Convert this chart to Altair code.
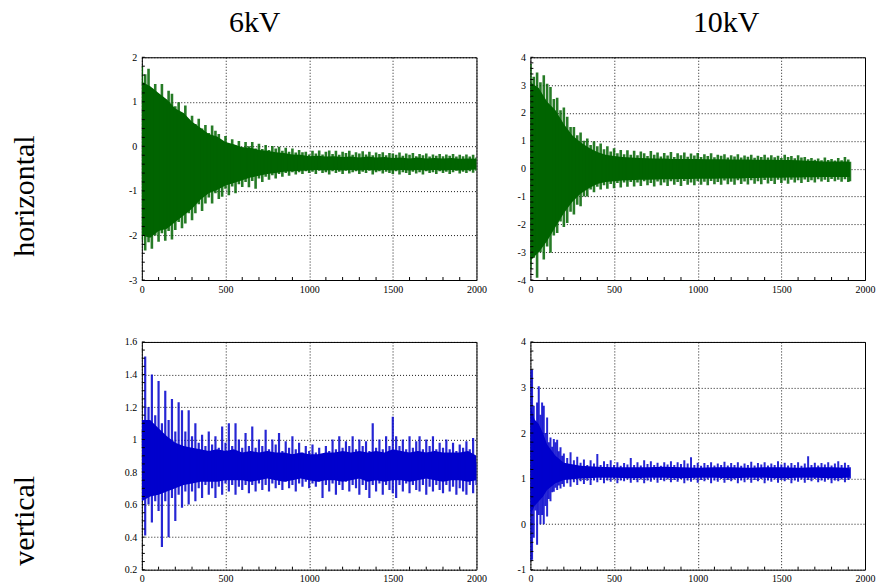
import altair as alt
import pandas as pd

col_titles = ["6kV", "10kV"]
row_titles = ["horizontal", "vertical"]
x_ticks = [0, 500, 1000, 1500, 2000]
x_minor = [100, 200, 300, 400, 600, 700, 800, 900, 1100, 1200, 1300, 1400,
           1600, 1700, 1800, 1900]

# ================= 6kV horizontal =================
# spike extremes read every 20 samples
tl_x = list(range(0, 2001, 20))
tl_hi = [1.80, 1.62, 1.74, 1.30, 1.40, 1.15, 1.40, 1.05, 1.25, 1.18,      # 0-180
         0.90, 0.99, 0.75, 0.92, 0.60, 0.69, 0.50, 0.62, 0.40, 0.48,      # 200-380
         0.30, 0.47, 0.35, 0.28, 0.12, 0.23, 0.05, 0.16, 0.02, 0.12,      # 400-580
         -0.02, 0.10, 0.00, 0.10, -0.05, 0.06, -0.06, 0.03, -0.08, 0.01,  # 600-780
         -0.05, -0.01, -0.10, -0.03, -0.12, -0.05, -0.14, -0.08, -0.13, -0.12,  # 800-980
         -0.18, -0.10, -0.16, -0.09, -0.18, -0.12, -0.09, -0.17, -0.10, -0.19,  # 1000-1180
         -0.12, -0.15, -0.10, -0.19, -0.13, -0.16, -0.11, -0.18, -0.12, -0.20,  # 1200-1380
         -0.14, -0.17, -0.13, -0.20, -0.15, -0.16, -0.19, -0.14, -0.21, -0.16,  # 1400-1580
         -0.19, -0.15, -0.22, -0.17, -0.20, -0.16, -0.23, -0.18, -0.21, -0.17,  # 1600-1780
         -0.22, -0.18, -0.21, -0.17, -0.23, -0.19, -0.22, -0.18, -0.23, -0.19,  # 1800-1980
         -0.25]
tl_lo = [-2.10, -2.34, -2.15, -2.30, -2.00, -2.14, -1.95, -2.12, -1.90, -2.09,
         -1.88, -1.70, -1.84, -1.73, -1.50, -1.66, -1.50, -1.30, -1.45, -1.28,
         -1.15, -1.28, -1.05, -1.18, -1.13, -0.95, -1.10, -0.90, -1.05, -0.85,
         -0.91, -0.80, -0.92, -0.78, -0.95, -0.72, -0.80, -0.68, -0.75, -0.65,
         -0.72, -0.62, -0.68, -0.60, -0.66, -0.58, -0.63, -0.58, -0.62, -0.56,
         -0.60, -0.57, -0.62, -0.55, -0.60, -0.58, -0.63, -0.56, -0.60, -0.57,
         -0.62, -0.55, -0.61, -0.58, -0.56, -0.62, -0.57, -0.60, -0.55, -0.63,
         -0.58, -0.56, -0.61, -0.57, -0.60, -0.62, -0.56, -0.63, -0.58, -0.60,
         -0.64, -0.57, -0.61, -0.58, -0.63, -0.56, -0.60, -0.58, -0.62, -0.56,
         -0.60, -0.57, -0.62, -0.58, -0.55, -0.61, -0.57, -0.60, -0.56, -0.59,
         -0.55]
# dense core band read every 50 samples
tl_cx = list(range(0, 2001, 50))
tl_chi = [1.45, 1.35, 1.20, 1.05, 0.85, 0.75, 0.55, 0.42, 0.28, 0.22,
          0.10, 0.05, -0.02, -0.03, -0.08, -0.10, -0.13, -0.15, -0.18, -0.19,
          -0.22, -0.21, -0.23, -0.22, -0.24, -0.23, -0.25, -0.23, -0.25, -0.24,
          -0.26, -0.25, -0.27, -0.25, -0.27, -0.26, -0.27, -0.26, -0.28, -0.27,
          -0.28]
tl_clo = [-2.00, -2.05, -1.90, -1.85, -1.70, -1.55, -1.40, -1.20, -1.05, -0.98,
          -0.88, -0.82, -0.76, -0.70, -0.66, -0.62, -0.60, -0.57, -0.56, -0.55,
          -0.54, -0.53, -0.54, -0.53, -0.54, -0.53, -0.54, -0.53, -0.54, -0.53,
          -0.54, -0.53, -0.54, -0.53, -0.54, -0.53, -0.54, -0.53, -0.54, -0.53,
          -0.52]

# ================= 10kV horizontal =================
tr_x = list(range(0, 1901, 20)) + [1910]
tr_hi = [3.76, 3.30, 3.45, 3.10, 3.35, 3.05, 2.93, 2.50, 2.55, 2.10,      # 0-180
         2.20, 1.86, 1.50, 1.50, 1.20, 1.30, 1.00, 1.08, 0.85, 0.98,      # 200-380
         0.80, 0.90, 0.70, 0.80, 0.62, 0.73, 0.55, 0.67, 0.52, 0.66,      # 400-580
         0.50, 0.64, 0.48, 0.62, 0.55, 0.45, 0.63, 0.50, 0.58, 0.44,      # 600-780
         0.56, 0.47, 0.60, 0.42, 0.55, 0.48, 0.58, 0.43, 0.54, 0.47,      # 800-980
         0.56, 0.42, 0.52, 0.45, 0.55, 0.41, 0.50, 0.46, 0.52, 0.40,      # 1000-1180
         0.48, 0.44, 0.52, 0.40, 0.47, 0.43, 0.50, 0.39, 0.46, 0.42,      # 1200-1380
         0.50, 0.40, 0.48, 0.41, 0.46, 0.38, 0.50, 0.42, 0.45, 0.37,      # 1400-1580
         0.48, 0.40, 0.42, 0.34, 0.38, 0.32, 0.36, 0.30, 0.40, 0.31,      # 1600-1780
         0.35, 0.29, 0.38, 0.30, 0.42, 0.33,                              # 1800-1900
         0.25]                                                            # 1910
tr_lo = [-3.62, -3.20, -3.92, -3.00, -3.26, -2.80, -3.02, -2.40, -2.31, -1.90,
         -2.10, -1.95, -1.55, -1.65, -1.30, -1.35, -1.00, -1.00, -0.75, -0.85,
         -0.65, -0.75, -0.60, -0.72, -0.55, -0.70, -0.52, -0.68, -0.50, -0.65,
         -0.48, -0.64, -0.50, -0.62, -0.45, -0.60, -0.52, -0.64, -0.46, -0.60,
         -0.50, -0.62, -0.45, -0.58, -0.48, -0.62, -0.44, -0.58, -0.50, -0.60,
         -0.45, -0.58, -0.47, -0.60, -0.44, -0.56, -0.48, -0.58, -0.43, -0.56,
         -0.47, -0.58, -0.42, -0.55, -0.46, -0.57, -0.42, -0.54, -0.45, -0.56,
         -0.41, -0.53, -0.44, -0.55, -0.40, -0.52, -0.43, -0.54, -0.40, -0.50,
         -0.42, -0.52, -0.39, -0.48, -0.42, -0.50, -0.38, -0.46, -0.40, -0.48,
         -0.37, -0.45, -0.40, -0.47, -0.38, -0.48,
         -0.45]
tr_cx = list(range(0, 1901, 50)) + [1910]
tr_chi = [3.10, 2.90, 2.40, 2.10, 1.60, 1.20, 0.95, 0.75, 0.60, 0.50,
          0.45, 0.42, 0.40, 0.38, 0.37, 0.36, 0.36, 0.35, 0.35, 0.35,
          0.35, 0.34, 0.34, 0.34, 0.33, 0.33, 0.33, 0.32, 0.32, 0.32,
          0.31, 0.31, 0.30, 0.28, 0.27, 0.26, 0.26, 0.26, 0.26,
          0.22]
tr_clo = [-3.30, -3.00, -2.60, -2.10, -1.60, -1.20, -0.90, -0.70, -0.55, -0.48,
          -0.45, -0.43, -0.42, -0.40, -0.40, -0.39, -0.38, -0.38, -0.37, -0.37,
          -0.36, -0.36, -0.36, -0.35, -0.35, -0.35, -0.34, -0.34, -0.33, -0.33,
          -0.33, -0.32, -0.32, -0.31, -0.31, -0.30, -0.30, -0.30, -0.30,
          -0.30]

# ================= 6kV vertical =================
bl_x = list(range(0, 2001, 20))
bl_hi = [1.06, 1.51, 1.20, 1.40, 1.15, 1.36, 1.10, 1.30, 1.12, 1.25,
         1.05, 1.23, 1.18, 1.05, 1.18, 1.02, 1.10, 0.98, 1.03, 0.96,
         1.05, 0.97, 1.02, 0.95, 1.08, 0.98, 1.10, 0.96, 1.10, 1.00,
         0.95, 1.04, 0.96, 1.08, 0.95, 1.00, 0.96, 1.06, 0.94, 1.00,
         0.97, 1.04, 0.93, 0.99, 0.95, 1.02, 0.94, 0.98, 0.92, 0.96,
         0.93, 0.97, 0.92, 0.95, 0.91, 0.96, 0.93, 1.00, 0.94, 1.02,
         0.95, 0.99, 0.96, 1.02, 0.94, 1.00, 0.96, 0.99, 0.93, 1.10,
         0.95, 1.00, 0.94, 1.02, 0.96, 1.14, 1.02, 0.96, 1.00, 0.94,
         1.02, 0.95, 0.99, 1.02, 0.94, 1.00, 0.96, 1.02, 0.94, 0.98,
         0.95, 1.00, 0.94, 0.98, 0.93, 0.97, 0.95, 0.99, 0.94, 1.01,
         0.86]
bl_lo = [0.95, 0.41, 0.60, 0.49, 0.62, 0.56, 0.34, 0.62, 0.40, 0.64,
         0.50, 0.66, 0.58, 0.68, 0.60, 0.68, 0.62, 0.70, 0.64, 0.72,
         0.66, 0.70, 0.64, 0.71, 0.66, 0.73, 0.68, 0.72, 0.66, 0.71,
         0.69, 0.72, 0.67, 0.72, 0.68, 0.73, 0.69, 0.72, 0.68, 0.73,
         0.70, 0.72, 0.69, 0.74, 0.70, 0.72, 0.68, 0.73, 0.71, 0.74,
         0.70, 0.73, 0.71, 0.74, 0.64, 0.72, 0.68, 0.73, 0.66, 0.72,
         0.69, 0.74, 0.68, 0.72, 0.70, 0.66, 0.72, 0.69, 0.64, 0.72,
         0.68, 0.73, 0.66, 0.72, 0.69, 0.67, 0.64, 0.72, 0.68, 0.73,
         0.67, 0.72, 0.69, 0.68, 0.72, 0.66, 0.71, 0.68, 0.72, 0.69,
         0.67, 0.72, 0.68, 0.71, 0.66, 0.70, 0.68, 0.66, 0.72, 0.67,
         0.72]
bl_cx = list(range(0, 2001, 50))
bl_chi = [1.12, 1.12, 1.07, 1.02, 0.98, 0.96, 0.95, 0.94, 0.93, 0.94,
          0.93, 0.94, 0.92, 0.93, 0.92, 0.93, 0.92, 0.92, 0.91, 0.92,
          0.91, 0.91, 0.92, 0.92, 0.93, 0.92, 0.93, 0.92, 0.93, 0.92,
          0.94, 0.93, 0.92, 0.93, 0.92, 0.93, 0.92, 0.92, 0.92, 0.93,
          0.90]
bl_clo = [0.62, 0.65, 0.66, 0.68, 0.70, 0.72, 0.73, 0.74, 0.74, 0.74,
          0.75, 0.75, 0.75, 0.74, 0.75, 0.76, 0.75, 0.74, 0.75, 0.76,
          0.75, 0.74, 0.75, 0.75, 0.74, 0.75, 0.76, 0.74, 0.75, 0.74,
          0.75, 0.75, 0.74, 0.75, 0.76, 0.75, 0.74, 0.75, 0.75, 0.74,
          0.75]

# ================= 10kV vertical =================
br_x = list(range(0, 200, 10)) + list(range(200, 1901, 20)) + [1910]
br_hi = [3.39, 3.39, 2.60, 2.20, 2.67, 3.03, 2.40, 2.67, 2.60, 2.00,      # 0-90
         2.34, 1.80, 1.90, 1.70, 1.87, 1.80, 1.85, 1.60, 1.69, 1.50,      # 100-190
         1.55, 1.45, 1.58, 1.40, 1.48, 1.35, 1.42, 1.30, 1.40, 1.33,      # 200-380
         1.54, 1.30, 1.38, 1.32, 1.40, 1.30, 1.36, 1.28, 1.34, 1.31,      # 400-580
         1.45, 1.30, 1.36, 1.29, 1.40, 1.32, 1.38, 1.30, 1.35, 1.28,      # 600-780
         1.36, 1.31, 1.38, 1.30, 1.36, 1.32, 1.40, 1.33, 1.47, 1.30,      # 800-980
         1.35, 1.28, 1.34, 1.30, 1.36, 1.29, 1.33, 1.30, 1.37, 1.29,      # 1000-1180
         1.34, 1.30, 1.36, 1.28, 1.33, 1.30, 1.37, 1.29, 1.34, 1.31,      # 1200-1380
         1.36, 1.29, 1.33, 1.30, 1.38, 1.31, 1.35, 1.29, 1.34, 1.30,      # 1400-1580
         1.36, 1.28, 1.33, 1.49, 1.30, 1.35, 1.29, 1.34, 1.31, 1.36,      # 1600-1780
         1.29, 1.33, 1.38, 1.30, 1.35, 1.30,                              # 1800-1900
         1.25]                                                            # 1910
br_lo = [-0.80, -0.78, -0.30, 0.30, -0.45, 0.20, 0.00, 0.20, 0.00, 0.40,
         0.17, 0.55, 0.50, 0.70, 0.71, 0.80, 0.75, 0.85, 0.78, 0.88,
         0.82, 0.90, 0.82, 0.92, 0.86, 0.94, 0.88, 0.95, 0.86, 0.96,
         0.92, 0.97, 0.90, 0.96, 0.93, 0.98, 0.90, 0.96, 0.94, 0.98,
         0.91, 0.97, 0.92, 0.98, 0.90, 0.96, 0.93, 0.98, 0.91, 0.97,
         0.94, 0.98, 0.92, 0.97, 0.93, 0.99, 0.90, 0.96, 0.93, 0.98,
         0.91, 0.97, 0.94, 0.98, 0.90, 0.96, 0.93, 0.99, 0.91, 0.97,
         0.94, 0.98, 0.90, 0.96, 0.92, 0.98, 0.91, 0.97, 0.94, 0.99,
         0.90, 0.96, 0.93, 0.98, 0.91, 0.97, 0.94, 0.98, 0.90, 0.96,
         0.93, 0.98, 0.91, 0.97, 0.94, 0.99, 0.92, 0.96, 0.93, 0.98,
         0.90, 0.96, 0.94, 0.98, 0.92, 0.97,
         1.00]
br_cx = [0, 25, 50, 75, 100, 150, 200] + list(range(300, 1901, 100)) + [1910]
br_chi = [2.60, 2.30, 2.20, 2.00, 1.75, 1.50, 1.35,
          1.28, 1.26, 1.25, 1.25, 1.25, 1.26, 1.25, 1.24, 1.25, 1.25, 1.24, 1.25, 1.25,
          1.24, 1.25, 1.25, 1.24,
          1.20]
br_clo = [0.20, 0.40, 0.50, 0.60, 0.75, 0.90, 0.97,
          1.00, 1.02, 1.02, 1.01, 1.02, 1.02, 1.01, 1.02, 1.02, 1.01, 1.02, 1.02, 1.01,
          1.02, 1.02, 1.01, 1.02,
          1.05]

tl_yticks = [-3, -2, -1, 0, 1, 2]
tr_yticks = [-4, -3, -2, -1, 0, 1, 2, 3, 4]
bl_yticks = [0.2, 0.4, 0.6, 0.8, 1.0, 1.2, 1.4, 1.6]
br_yticks = [-1, 0, 1, 2, 3, 4]
tl_yminor = [round(-3 + 0.2 * i, 2) for i in range(26)]
tr_yminor = [round(-4 + 0.2 * i, 2) for i in range(41)]
bl_yminor = [round(0.2 + 0.05 * i, 2) for i in range(29)]
br_yminor = [round(-1 + 0.2 * i, 2) for i in range(26)]

GREEN = "#006400"
BLUE = "#0000cd"
FONT = "Liberation Serif"
W = 335
H_TOP = 223
H_BOT = 228


def axis(vals, pad):
    return alt.Axis(values=vals, title=None, grid=True, ticks=False, domain=False,
                    labelFont=FONT, labelFontSize=10, labelColor="black",
                    labelPadding=pad, labelFlush=False, labelExpr="'' + datum.value",
                    gridColor="black", gridDash=[1, 2], gridOpacity=0.9,
                    gridWidth=1)


def panel(x, hi, lo, cx, chi, clo, color, ydom, yvals, yminor, h, sw,
          col_label=None, col_x=0, row_label=None, row_y=0):
    xs = alt.Scale(domain=[0, 2000], nice=False, zero=False)
    ys = alt.Scale(domain=ydom, nice=False, zero=False)
    xa = axis(x_ticks, 4)
    ya = axis(yvals, 5)
    core = alt.Chart(pd.DataFrame({"x": cx, "hi": chi, "lo": clo})).mark_area(
        color=color, clip=True).encode(
        x=alt.X("x:Q", scale=xs, axis=xa),
        y=alt.Y("hi:Q", scale=ys, axis=ya),
        y2="lo:Q")
    spikes = alt.Chart(pd.DataFrame({"x": x, "hi": hi, "lo": lo})).mark_rule(
        color=color, opacity=0.85, strokeWidth=sw, clip=True).encode(
        x=alt.X("x:Q", scale=xs, axis=xa),
        y=alt.Y("hi:Q", scale=ys, axis=ya),
        y2="lo:Q")
    xminor = alt.Chart(pd.DataFrame({"m": x_minor})).mark_rule(
        color="black", strokeWidth=1).encode(
        x=alt.X("m:Q", scale=xs, axis=xa),
        y=alt.value(h), y2=alt.value(h - 3))
    yminor_r = alt.Chart(pd.DataFrame({"m": yminor})).mark_rule(
        color="black", strokeWidth=1).encode(
        y=alt.Y("m:Q", scale=ys, axis=ya),
        x=alt.value(0), x2=alt.value(3))
    layers = [core, spikes, xminor, yminor_r]
    if col_label:
        layers.append(alt.Chart(pd.DataFrame({"t": [col_label]})).mark_text(
            font=FONT, fontSize=30, color="black", align="center",
            baseline="middle").encode(text="t:N", x=alt.value(col_x), y=alt.value(-34)))
    if row_label:
        layers.append(alt.Chart(pd.DataFrame({"t": [row_label]})).mark_text(
            font=FONT, fontSize=30, color="black", align="center",
            baseline="middle", angle=270).encode(text="t:N", x=alt.value(-117),
                                                 y=alt.value(row_y)))
    return alt.layer(*layers).properties(width=W, height=h)


tl = panel(tl_x, tl_hi, tl_lo, tl_cx, tl_chi, tl_clo, GREEN, [-3, 2], tl_yticks,
           tl_yminor, H_TOP, 2.6,
           col_label=col_titles[0], col_x=113, row_label=row_titles[0], row_y=139)
tr = panel(tr_x, tr_hi, tr_lo, tr_cx, tr_chi, tr_clo, GREEN, [-4, 4], tr_yticks,
           tr_yminor, H_TOP, 2.6,
           col_label=col_titles[1], col_x=196)
bl = panel(bl_x, bl_hi, bl_lo, bl_cx, bl_chi, bl_clo, BLUE, [0.2, 1.6], bl_yticks,
           bl_yminor, H_BOT, 2.2,
           row_label=row_titles[1], row_y=179)
br = panel(br_x, br_hi, br_lo, br_cx, br_chi, br_clo, BLUE, [-1, 4], br_yticks,
           br_yminor, H_BOT, 2.0)

chart = alt.concat(tl, tr, bl, br, columns=2,
                   spacing={"row": 62, "column": 54}, bounds="flush").configure_view(
    stroke="black", strokeWidth=1).properties(
    padding={"left": 9, "top": 7, "right": 0, "bottom": 0}, background="white")

chart.save("out.html", embed_options={"renderer": "svg", "actions": False})
